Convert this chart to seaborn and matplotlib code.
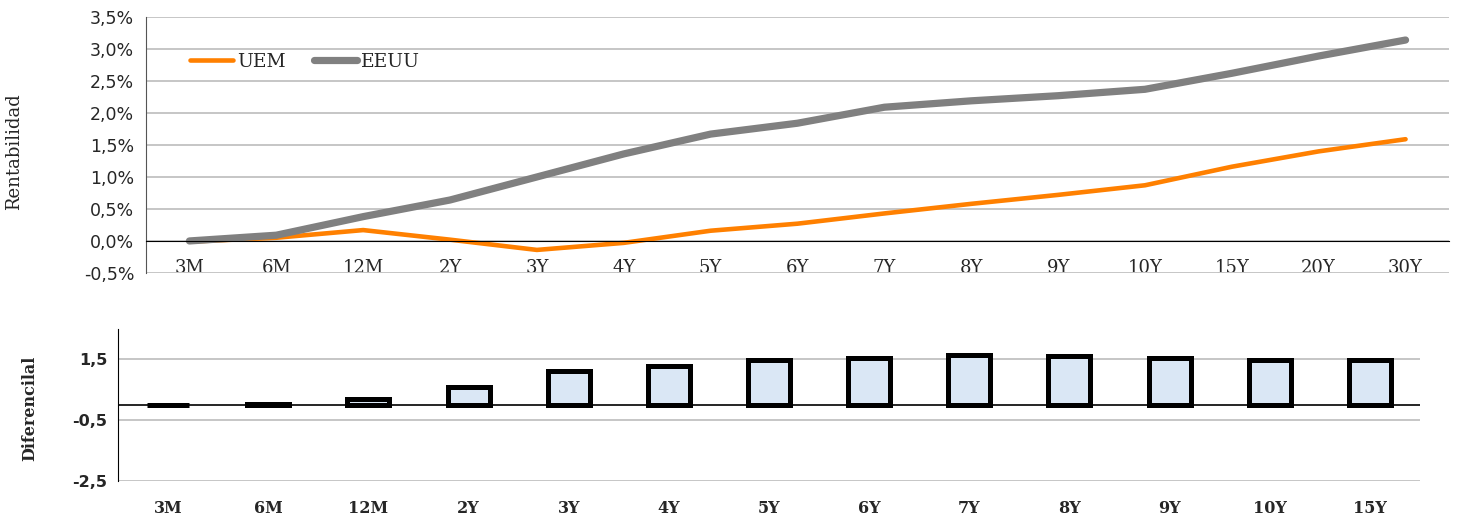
import numpy as np
import pandas as pd
import matplotlib
matplotlib.use("Agg")
import matplotlib.pyplot as plt
import seaborn as sns
from matplotlib.ticker import FuncFormatter, FixedLocator

# ---- data ----
plazos = ["3M", "6M", "12M", "2Y", "3Y", "4Y", "5Y", "6Y", "7Y", "8Y", "9Y", "10Y", "15Y", "20Y", "30Y"]
uem = [-0.01, 0.05, 0.17, 0.02, -0.14, -0.03, 0.16, 0.27, 0.43, 0.58, 0.72, 0.87, 1.16, 1.40, 1.59]
eeuu = [0.00, 0.09, 0.38, 0.64, 1.00, 1.36, 1.67, 1.84, 2.09, 2.19, 2.27, 2.37, 2.62, 2.89, 3.14]

plazos_dif = ["3M", "6M", "12M", "2Y", "3Y", "4Y", "5Y", "6Y", "7Y", "8Y", "9Y", "10Y", "15Y"]
diferencial = [0.01, 0.05, 0.19, 0.61, 1.12, 1.30, 1.47, 1.54, 1.65, 1.61, 1.54, 1.49, 1.47]

top_yticks = [-0.5, 0.0, 0.5, 1.0, 1.5, 2.0, 2.5, 3.0, 3.5]
bot_yticks = [-2.5, -0.5, 1.5]

sns.set_style("white")
plt.rcParams["font.family"] = ["DejaVu Serif"]

fig = plt.figure(figsize=(14.57, 5.15), dpi=100)
ax1 = fig.add_axes([0.1002, 0.470, 0.8943, 0.497])
ax2 = fig.add_axes([0.0810, 0.066, 0.8936, 0.295])

grid_c = "#c6c6c6"

# ---- top: yield curves ----
df = pd.DataFrame({"plazo": plazos * 2,
                   "valor": uem + eeuu,
                   "serie": ["UEM"] * len(plazos) + ["EEUU"] * len(plazos)})
sns.lineplot(data=df, x="plazo", y="valor", hue="serie", size="serie",
             palette={"UEM": "#ff8000", "EEUU": "#808080"},
             sizes={"UEM": 3.3, "EEUU": 5.2}, sort=False, ax=ax1,
             solid_capstyle="round")

ax1.set_xlim(-0.5, len(plazos) - 0.5)
ax1.set_ylim(-0.5, 3.5)
ax1.yaxis.set_major_locator(FixedLocator(top_yticks))
ax1.yaxis.set_major_formatter(FuncFormatter(lambda v, p: f"{v:.1f}%".replace(".", ",")))
ax1.grid(axis="y", color=grid_c, lw=1.4)
ax1.set_axisbelow(True)
for s in ["top", "right"]:
    ax1.spines[s].set_visible(False)
ax1.spines["left"].set_color("#555555")
ax1.spines["bottom"].set_position(("data", 0))
ax1.spines["bottom"].set_color("black")
ax1.set_xticks(np.arange(len(plazos) + 1) - 0.5)
ax1.set_xticklabels([])
ax1.set_xticks(np.arange(len(plazos)), minor=True)
ax1.set_xticklabels(plazos, minor=True, fontsize=13)
ax1.tick_params(axis="x", which="major", length=5, color="#333333", direction="out")
ax1.tick_params(axis="x", which="minor", length=0, pad=13)
ax1.tick_params(axis="y", length=5, color="#555555", labelsize=12.5)
for t in ax1.get_yticklabels():
    t.set_family("DejaVu Sans")
ax1.set_xlabel("")
ax1.set_ylabel("Rentabilidad", fontsize=13)
ax1.yaxis.set_label_coords(-0.094, 0.473)

h, l = ax1.get_legend_handles_labels()
ax1.legend(h, l, loc="center left", bbox_to_anchor=(0.034, 0.824), ncol=2,
           frameon=False, fontsize=13.5, handlelength=2.3, handletextpad=0.2,
           columnspacing=1.5, borderpad=0, borderaxespad=0)

# ---- bottom: spread bars ----
dfd = pd.DataFrame({"plazo": plazos_dif, "dif": diferencial})
sns.barplot(data=dfd, x="plazo", y="dif", color="#dae7f5", width=0.42,
            edgecolor="black", linewidth=3.6, saturation=1, ax=ax2)
ax2.set_xlim(-0.5, len(plazos_dif) - 0.5)
ax2.set_ylim(-2.5, 2.5)
ax2.yaxis.set_major_locator(FixedLocator(bot_yticks))
ax2.yaxis.set_major_formatter(FuncFormatter(lambda v, p: f"{v:.1f}".replace(".", ",")))
ax2.grid(axis="y", color=grid_c, lw=1.4)
ax2.set_axisbelow(True)
ax2.axhline(0, color="black", lw=1.2, zorder=1)
for s in ["top", "right", "bottom"]:
    ax2.spines[s].set_visible(False)
ax2.spines["left"].set_color("black")
ax2.tick_params(axis="x", length=0, pad=14, labelsize=11.5)
ax2.tick_params(axis="y", length=4, color="black", labelsize=11.5)
for t in ax2.get_xticklabels():
    t.set_fontweight("bold")
for t in ax2.get_yticklabels():
    t.set_fontweight("bold")
    t.set_family("DejaVu Sans")
ax2.set_xlabel("")
ax2.set_ylabel("Diferencilal", fontsize=11.5, fontweight="bold")
ax2.yaxis.set_label_coords(-0.0614, 0.48)

fig.savefig("out.png", dpi=100)
